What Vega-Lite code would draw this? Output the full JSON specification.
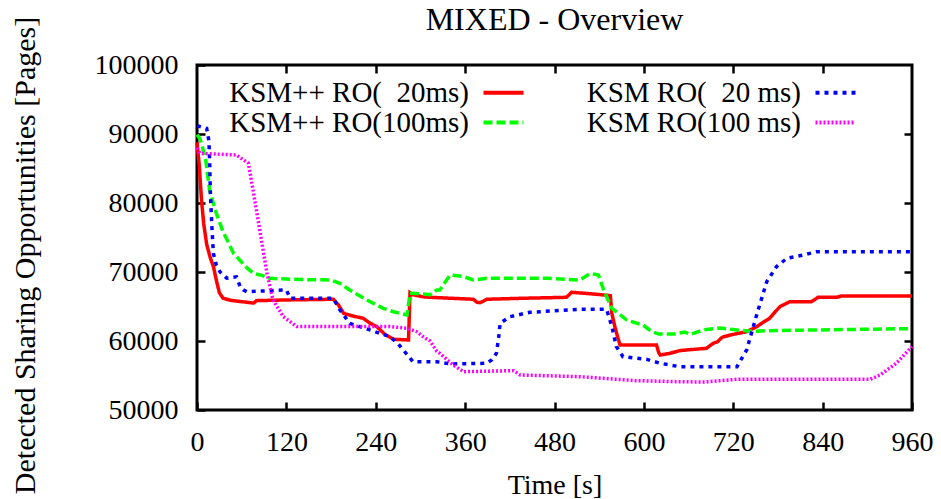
{
  "$schema": "https://vega.github.io/schema/vega-lite/v6.json",
  "width": 715,
  "height": 345,
  "autosize": {"type": "none"},
  "padding": {"left": 197, "top": 65, "right": 29, "bottom": 89},
  "background": "white",
  "title": {"text": "MIXED - Overview", "font": "Liberation Serif", "fontSize": 32, "fontWeight": "normal", "color": "black", "anchor": "middle", "frame": "group", "baseline": "alphabetic", "offset": 0, "dy": 46},
  "config": {"view": {"stroke": "black", "strokeWidth": 3}, "font": "Liberation Serif"},
  "datasets": {
    "series": [
      {"s": "KSM++ RO(\u00a0 20ms)", "t": 0, "v": 88800},
      {"s": "KSM++ RO(\u00a0 20ms)", "t": 3, "v": 85500},
      {"s": "KSM++ RO(\u00a0 20ms)", "t": 6, "v": 80500},
      {"s": "KSM++ RO(\u00a0 20ms)", "t": 9, "v": 77000},
      {"s": "KSM++ RO(\u00a0 20ms)", "t": 13, "v": 74000},
      {"s": "KSM++ RO(\u00a0 20ms)", "t": 18, "v": 72000},
      {"s": "KSM++ RO(\u00a0 20ms)", "t": 22, "v": 70800},
      {"s": "KSM++ RO(\u00a0 20ms)", "t": 26, "v": 68800},
      {"s": "KSM++ RO(\u00a0 20ms)", "t": 30, "v": 67000},
      {"s": "KSM++ RO(\u00a0 20ms)", "t": 35, "v": 66200},
      {"s": "KSM++ RO(\u00a0 20ms)", "t": 45, "v": 65900},
      {"s": "KSM++ RO(\u00a0 20ms)", "t": 60, "v": 65700},
      {"s": "KSM++ RO(\u00a0 20ms)", "t": 76, "v": 65500},
      {"s": "KSM++ RO(\u00a0 20ms)", "t": 80, "v": 65850},
      {"s": "KSM++ RO(\u00a0 20ms)", "t": 120, "v": 65950},
      {"s": "KSM++ RO(\u00a0 20ms)", "t": 183, "v": 66050},
      {"s": "KSM++ RO(\u00a0 20ms)", "t": 190, "v": 65200},
      {"s": "KSM++ RO(\u00a0 20ms)", "t": 197, "v": 64000},
      {"s": "KSM++ RO(\u00a0 20ms)", "t": 210, "v": 63600},
      {"s": "KSM++ RO(\u00a0 20ms)", "t": 223, "v": 63300},
      {"s": "KSM++ RO(\u00a0 20ms)", "t": 232, "v": 62600},
      {"s": "KSM++ RO(\u00a0 20ms)", "t": 241, "v": 62100},
      {"s": "KSM++ RO(\u00a0 20ms)", "t": 252, "v": 61000},
      {"s": "KSM++ RO(\u00a0 20ms)", "t": 264, "v": 60250},
      {"s": "KSM++ RO(\u00a0 20ms)", "t": 284, "v": 60150},
      {"s": "KSM++ RO(\u00a0 20ms)", "t": 286, "v": 67000},
      {"s": "KSM++ RO(\u00a0 20ms)", "t": 290, "v": 66700},
      {"s": "KSM++ RO(\u00a0 20ms)", "t": 304, "v": 66400},
      {"s": "KSM++ RO(\u00a0 20ms)", "t": 313, "v": 66330},
      {"s": "KSM++ RO(\u00a0 20ms)", "t": 340, "v": 66200},
      {"s": "KSM++ RO(\u00a0 20ms)", "t": 371, "v": 66050},
      {"s": "KSM++ RO(\u00a0 20ms)", "t": 376, "v": 65600},
      {"s": "KSM++ RO(\u00a0 20ms)", "t": 380, "v": 65550},
      {"s": "KSM++ RO(\u00a0 20ms)", "t": 385, "v": 65800},
      {"s": "KSM++ RO(\u00a0 20ms)", "t": 389, "v": 66050},
      {"s": "KSM++ RO(\u00a0 20ms)", "t": 440, "v": 66200},
      {"s": "KSM++ RO(\u00a0 20ms)", "t": 496, "v": 66330},
      {"s": "KSM++ RO(\u00a0 20ms)", "t": 503, "v": 67060},
      {"s": "KSM++ RO(\u00a0 20ms)", "t": 537, "v": 66770},
      {"s": "KSM++ RO(\u00a0 20ms)", "t": 555, "v": 66570},
      {"s": "KSM++ RO(\u00a0 20ms)", "t": 557, "v": 64000},
      {"s": "KSM++ RO(\u00a0 20ms)", "t": 561, "v": 62100},
      {"s": "KSM++ RO(\u00a0 20ms)", "t": 565, "v": 60500},
      {"s": "KSM++ RO(\u00a0 20ms)", "t": 568, "v": 59420},
      {"s": "KSM++ RO(\u00a0 20ms)", "t": 617, "v": 59420},
      {"s": "KSM++ RO(\u00a0 20ms)", "t": 620, "v": 58300},
      {"s": "KSM++ RO(\u00a0 20ms)", "t": 622, "v": 57970},
      {"s": "KSM++ RO(\u00a0 20ms)", "t": 635, "v": 58210},
      {"s": "KSM++ RO(\u00a0 20ms)", "t": 648, "v": 58600},
      {"s": "KSM++ RO(\u00a0 20ms)", "t": 657, "v": 58700},
      {"s": "KSM++ RO(\u00a0 20ms)", "t": 684, "v": 58940},
      {"s": "KSM++ RO(\u00a0 20ms)", "t": 693, "v": 59660},
      {"s": "KSM++ RO(\u00a0 20ms)", "t": 699, "v": 59900},
      {"s": "KSM++ RO(\u00a0 20ms)", "t": 705, "v": 60540},
      {"s": "KSM++ RO(\u00a0 20ms)", "t": 716, "v": 60870},
      {"s": "KSM++ RO(\u00a0 20ms)", "t": 738, "v": 61350},
      {"s": "KSM++ RO(\u00a0 20ms)", "t": 752, "v": 62100},
      {"s": "KSM++ RO(\u00a0 20ms)", "t": 760, "v": 62700},
      {"s": "KSM++ RO(\u00a0 20ms)", "t": 769, "v": 63300},
      {"s": "KSM++ RO(\u00a0 20ms)", "t": 776, "v": 64200},
      {"s": "KSM++ RO(\u00a0 20ms)", "t": 783, "v": 65000},
      {"s": "KSM++ RO(\u00a0 20ms)", "t": 796, "v": 65700},
      {"s": "KSM++ RO(\u00a0 20ms)", "t": 825, "v": 65700},
      {"s": "KSM++ RO(\u00a0 20ms)", "t": 834, "v": 66330},
      {"s": "KSM++ RO(\u00a0 20ms)", "t": 859, "v": 66330},
      {"s": "KSM++ RO(\u00a0 20ms)", "t": 865, "v": 66520},
      {"s": "KSM++ RO(\u00a0 20ms)", "t": 960, "v": 66520},

      {"s": "KSM++ RO(100ms)", "t": 0, "v": 89900},
      {"s": "KSM++ RO(100ms)", "t": 4, "v": 89300},
      {"s": "KSM++ RO(100ms)", "t": 8, "v": 87800},
      {"s": "KSM++ RO(100ms)", "t": 12, "v": 86000},
      {"s": "KSM++ RO(100ms)", "t": 17, "v": 81800},
      {"s": "KSM++ RO(100ms)", "t": 20, "v": 80700},
      {"s": "KSM++ RO(100ms)", "t": 26, "v": 78500},
      {"s": "KSM++ RO(100ms)", "t": 35, "v": 75800},
      {"s": "KSM++ RO(100ms)", "t": 42, "v": 74300},
      {"s": "KSM++ RO(100ms)", "t": 49, "v": 72700},
      {"s": "KSM++ RO(100ms)", "t": 62, "v": 71200},
      {"s": "KSM++ RO(100ms)", "t": 67, "v": 70600},
      {"s": "KSM++ RO(100ms)", "t": 76, "v": 69800},
      {"s": "KSM++ RO(100ms)", "t": 85, "v": 69570},
      {"s": "KSM++ RO(100ms)", "t": 98, "v": 69080},
      {"s": "KSM++ RO(100ms)", "t": 140, "v": 68900},
      {"s": "KSM++ RO(100ms)", "t": 179, "v": 68840},
      {"s": "KSM++ RO(100ms)", "t": 192, "v": 68360},
      {"s": "KSM++ RO(100ms)", "t": 205, "v": 67400},
      {"s": "KSM++ RO(100ms)", "t": 228, "v": 65940},
      {"s": "KSM++ RO(100ms)", "t": 250, "v": 64740},
      {"s": "KSM++ RO(100ms)", "t": 265, "v": 64200},
      {"s": "KSM++ RO(100ms)", "t": 282, "v": 63770},
      {"s": "KSM++ RO(100ms)", "t": 286, "v": 66910},
      {"s": "KSM++ RO(100ms)", "t": 295, "v": 66900},
      {"s": "KSM++ RO(100ms)", "t": 313, "v": 66700},
      {"s": "KSM++ RO(100ms)", "t": 322, "v": 67400},
      {"s": "KSM++ RO(100ms)", "t": 326, "v": 67400},
      {"s": "KSM++ RO(100ms)", "t": 333, "v": 68500},
      {"s": "KSM++ RO(100ms)", "t": 340, "v": 69570},
      {"s": "KSM++ RO(100ms)", "t": 358, "v": 69330},
      {"s": "KSM++ RO(100ms)", "t": 371, "v": 68840},
      {"s": "KSM++ RO(100ms)", "t": 389, "v": 69080},
      {"s": "KSM++ RO(100ms)", "t": 470, "v": 69080},
      {"s": "KSM++ RO(100ms)", "t": 514, "v": 68840},
      {"s": "KSM++ RO(100ms)", "t": 528, "v": 69800},
      {"s": "KSM++ RO(100ms)", "t": 539, "v": 69570},
      {"s": "KSM++ RO(100ms)", "t": 546, "v": 67400},
      {"s": "KSM++ RO(100ms)", "t": 557, "v": 64740},
      {"s": "KSM++ RO(100ms)", "t": 577, "v": 63040},
      {"s": "KSM++ RO(100ms)", "t": 599, "v": 62300},
      {"s": "KSM++ RO(100ms)", "t": 610, "v": 61400},
      {"s": "KSM++ RO(100ms)", "t": 620, "v": 61000},
      {"s": "KSM++ RO(100ms)", "t": 640, "v": 61000},
      {"s": "KSM++ RO(100ms)", "t": 655, "v": 61300},
      {"s": "KSM++ RO(100ms)", "t": 662, "v": 60950},
      {"s": "KSM++ RO(100ms)", "t": 680, "v": 61600},
      {"s": "KSM++ RO(100ms)", "t": 702, "v": 61900},
      {"s": "KSM++ RO(100ms)", "t": 725, "v": 61600},
      {"s": "KSM++ RO(100ms)", "t": 743, "v": 61400},
      {"s": "KSM++ RO(100ms)", "t": 769, "v": 61500},
      {"s": "KSM++ RO(100ms)", "t": 960, "v": 61800},

      {"s": "KSM RO(\u00a0 20 ms)", "t": 0, "v": 91200},
      {"s": "KSM RO(\u00a0 20 ms)", "t": 13, "v": 90800},
      {"s": "KSM RO(\u00a0 20 ms)", "t": 16, "v": 89000},
      {"s": "KSM RO(\u00a0 20 ms)", "t": 17, "v": 86000},
      {"s": "KSM RO(\u00a0 20 ms)", "t": 18, "v": 81400},
      {"s": "KSM RO(\u00a0 20 ms)", "t": 20, "v": 76500},
      {"s": "KSM RO(\u00a0 20 ms)", "t": 22, "v": 72700},
      {"s": "KSM RO(\u00a0 20 ms)", "t": 26, "v": 71000},
      {"s": "KSM RO(\u00a0 20 ms)", "t": 31, "v": 70000},
      {"s": "KSM RO(\u00a0 20 ms)", "t": 40, "v": 69100},
      {"s": "KSM RO(\u00a0 20 ms)", "t": 53, "v": 69300},
      {"s": "KSM RO(\u00a0 20 ms)", "t": 58, "v": 67870},
      {"s": "KSM RO(\u00a0 20 ms)", "t": 62, "v": 67400},
      {"s": "KSM RO(\u00a0 20 ms)", "t": 67, "v": 67140},
      {"s": "KSM RO(\u00a0 20 ms)", "t": 120, "v": 67400},
      {"s": "KSM RO(\u00a0 20 ms)", "t": 125, "v": 66190},
      {"s": "KSM RO(\u00a0 20 ms)", "t": 183, "v": 66190},
      {"s": "KSM RO(\u00a0 20 ms)", "t": 192, "v": 64490},
      {"s": "KSM RO(\u00a0 20 ms)", "t": 205, "v": 62560},
      {"s": "KSM RO(\u00a0 20 ms)", "t": 232, "v": 61600},
      {"s": "KSM RO(\u00a0 20 ms)", "t": 259, "v": 60630},
      {"s": "KSM RO(\u00a0 20 ms)", "t": 270, "v": 59600},
      {"s": "KSM RO(\u00a0 20 ms)", "t": 277, "v": 58700},
      {"s": "KSM RO(\u00a0 20 ms)", "t": 290, "v": 57000},
      {"s": "KSM RO(\u00a0 20 ms)", "t": 322, "v": 57000},
      {"s": "KSM RO(\u00a0 20 ms)", "t": 340, "v": 56670},
      {"s": "KSM RO(\u00a0 20 ms)", "t": 389, "v": 56770},
      {"s": "KSM RO(\u00a0 20 ms)", "t": 396, "v": 57300},
      {"s": "KSM RO(\u00a0 20 ms)", "t": 402, "v": 58210},
      {"s": "KSM RO(\u00a0 20 ms)", "t": 405, "v": 60500},
      {"s": "KSM RO(\u00a0 20 ms)", "t": 407, "v": 62560},
      {"s": "KSM RO(\u00a0 20 ms)", "t": 420, "v": 63520},
      {"s": "KSM RO(\u00a0 20 ms)", "t": 447, "v": 64160},
      {"s": "KSM RO(\u00a0 20 ms)", "t": 514, "v": 64590},
      {"s": "KSM RO(\u00a0 20 ms)", "t": 550, "v": 64590},
      {"s": "KSM RO(\u00a0 20 ms)", "t": 557, "v": 62100},
      {"s": "KSM RO(\u00a0 20 ms)", "t": 563, "v": 59200},
      {"s": "KSM RO(\u00a0 20 ms)", "t": 572, "v": 57720},
      {"s": "KSM RO(\u00a0 20 ms)", "t": 604, "v": 57340},
      {"s": "KSM RO(\u00a0 20 ms)", "t": 622, "v": 56770},
      {"s": "KSM RO(\u00a0 20 ms)", "t": 648, "v": 56280},
      {"s": "KSM RO(\u00a0 20 ms)", "t": 725, "v": 56280},
      {"s": "KSM RO(\u00a0 20 ms)", "t": 738, "v": 58700},
      {"s": "KSM RO(\u00a0 20 ms)", "t": 752, "v": 64000},
      {"s": "KSM RO(\u00a0 20 ms)", "t": 765, "v": 68600},
      {"s": "KSM RO(\u00a0 20 ms)", "t": 778, "v": 70770},
      {"s": "KSM RO(\u00a0 20 ms)", "t": 792, "v": 71980},
      {"s": "KSM RO(\u00a0 20 ms)", "t": 814, "v": 72460},
      {"s": "KSM RO(\u00a0 20 ms)", "t": 832, "v": 72940},
      {"s": "KSM RO(\u00a0 20 ms)", "t": 960, "v": 72940},

      {"s": "KSM RO(100 ms)", "t": 0, "v": 88000},
      {"s": "KSM RO(100 ms)", "t": 4, "v": 87200},
      {"s": "KSM RO(100 ms)", "t": 53, "v": 86960},
      {"s": "KSM RO(100 ms)", "t": 69, "v": 85750},
      {"s": "KSM RO(100 ms)", "t": 76, "v": 81400},
      {"s": "KSM RO(100 ms)", "t": 85, "v": 75600},
      {"s": "KSM RO(100 ms)", "t": 94, "v": 69800},
      {"s": "KSM RO(100 ms)", "t": 102, "v": 65940},
      {"s": "KSM RO(100 ms)", "t": 116, "v": 63520},
      {"s": "KSM RO(100 ms)", "t": 134, "v": 62100},
      {"s": "KSM RO(100 ms)", "t": 259, "v": 62100},
      {"s": "KSM RO(100 ms)", "t": 282, "v": 61840},
      {"s": "KSM RO(100 ms)", "t": 295, "v": 61350},
      {"s": "KSM RO(100 ms)", "t": 305, "v": 60500},
      {"s": "KSM RO(100 ms)", "t": 313, "v": 60000},
      {"s": "KSM RO(100 ms)", "t": 322, "v": 58500},
      {"s": "KSM RO(100 ms)", "t": 326, "v": 58210},
      {"s": "KSM RO(100 ms)", "t": 344, "v": 56520},
      {"s": "KSM RO(100 ms)", "t": 358, "v": 55550},
      {"s": "KSM RO(100 ms)", "t": 425, "v": 55700},
      {"s": "KSM RO(100 ms)", "t": 434, "v": 55070},
      {"s": "KSM RO(100 ms)", "t": 514, "v": 54830},
      {"s": "KSM RO(100 ms)", "t": 590, "v": 54250},
      {"s": "KSM RO(100 ms)", "t": 648, "v": 54100},
      {"s": "KSM RO(100 ms)", "t": 680, "v": 54050},
      {"s": "KSM RO(100 ms)", "t": 725, "v": 54450},
      {"s": "KSM RO(100 ms)", "t": 904, "v": 54450},
      {"s": "KSM RO(100 ms)", "t": 917, "v": 55070},
      {"s": "KSM RO(100 ms)", "t": 939, "v": 56770},
      {"s": "KSM RO(100 ms)", "t": 960, "v": 59200}
    ]
  },
  "data": {"name": "series"},
  "layer": [
    {
      "mark": {"type": "line", "strokeWidth": 3.5, "interpolate": "linear"},
      "encoding": {
        "x": {
          "field": "t", "type": "quantitative",
          "scale": {"domain": [0, 960], "nice": false, "zero": false},
          "axis": {
            "values": [0, 120, 240, 360, 480, 600, 720, 840, 960],
            "domain": false, "grid": false,
            "tickSize": -8, "tickWidth": 2.5, "tickColor": "black",
            "labelFont": "Liberation Serif", "labelFontSize": 28, "labelColor": "black",
            "labelPadding": 26, "labelFlush": false, "labelOverlap": false,
            "title": "Time [s]", "titleFont": "Liberation Serif", "titleFontSize": 28,
            "titleFontWeight": "normal", "titleColor": "black",
            "titleBaseline": "top", "titleY": 61
          }
        },
        "y": {
          "field": "v", "type": "quantitative",
          "scale": {"domain": [50000, 100000], "nice": false, "zero": false},
          "axis": {
            "values": [50000, 60000, 70000, 80000, 90000, 100000],
            "format": "d",
            "domain": false, "grid": false,
            "tickSize": -8, "tickWidth": 2.5, "tickColor": "black",
            "labelFont": "Liberation Serif", "labelFontSize": 28, "labelColor": "black",
            "labelPadding": 27, "labelFlush": false, "labelOverlap": false,
            "title": "Detected Sharing Opportunities [Pages]", "titleFont": "Liberation Serif",
            "titleFontSize": 30, "titleFontWeight": "normal", "titleColor": "black",
            "titleBaseline": "middle", "titleAngle": -90, "titleX": -172, "titleY": 190
          }
        },
        "color": {
          "field": "s", "type": "nominal",
          "scale": {
            "domain": ["KSM++ RO(\u00a0 20ms)", "KSM++ RO(100ms)", "KSM RO(\u00a0 20 ms)", "KSM RO(100 ms)"],
            "range": ["#ff0000", "#00ff00", "#0000ff", "#ff00ff"]
          },
          "legend": {
            "title": null, "orient": "none", "legendX": 292, "legendY": 13,
            "columns": 2, "columnPadding": 54, "rowPadding": 0, "padding": 0,
            "symbolType": "M-2,0H2", "symbolSize": 400, "symbolStrokeWidth": 4,
            "labelFont": "Liberation Serif", "labelFontSize": 29, "labelColor": "black",
            "labelAlign": "right", "labelOffset": -49, "labelLimit": 500, "labelBaseline": "middle"
          }
        },
        "strokeDash": {
          "field": "s", "type": "nominal",
          "scale": {
            "domain": ["KSM++ RO(\u00a0 20ms)", "KSM++ RO(100ms)", "KSM RO(\u00a0 20 ms)", "KSM RO(100 ms)"],
            "range": [[1, 0], [9, 4], [4, 5], [2, 2]]
          },
          "legend": {
            "title": null, "orient": "none", "legendX": 292, "legendY": 13,
            "columns": 2, "columnPadding": 54, "rowPadding": 0, "padding": 0,
            "symbolType": "M-2,0H2", "symbolSize": 400, "symbolStrokeWidth": 4,
            "labelFont": "Liberation Serif", "labelFontSize": 29, "labelColor": "black",
            "labelAlign": "right", "labelOffset": -49, "labelLimit": 500, "labelBaseline": "middle"
          }
        }
      }
    },
    {
      "mark": {"type": "point", "opacity": 0},
      "encoding": {
        "x": {
          "field": "t", "type": "quantitative",
          "axis": {
            "orient": "top", "values": [120, 240, 360, 480, 600, 720, 840],
            "domain": false, "grid": false, "labels": false, "title": null,
            "tickSize": -8, "tickWidth": 2.5, "tickColor": "black"
          }
        },
        "y": {
          "field": "v", "type": "quantitative",
          "axis": {
            "orient": "right", "values": [60000, 70000, 80000, 90000],
            "domain": false, "grid": false, "labels": false, "title": null,
            "tickSize": -8, "tickWidth": 2.5, "tickColor": "black"
          }
        }
      }
    }
  ],
  "resolve": {"axis": {"x": "independent", "y": "independent"}}
}
